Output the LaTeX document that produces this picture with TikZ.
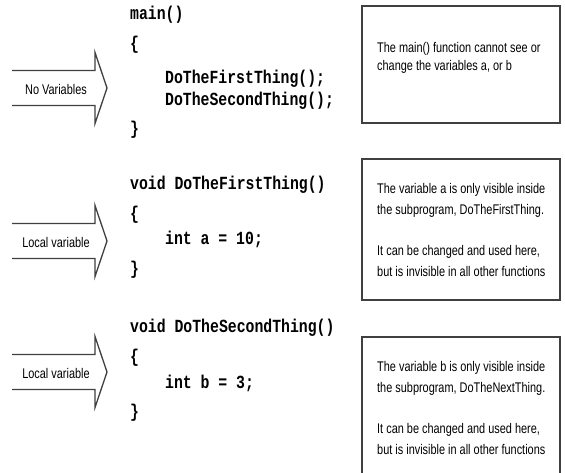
\documentclass[tikz,border=0pt]{standalone}
\usepackage{fontspec}
\newfontfamily\notefont[FakeStretch=0.78]{Liberation Sans}
\newfontfamily\codefont[FakeStretch=0.8]{Liberation Mono}
\begin{document}
\begin{tikzpicture}[x=1pt,y=-1pt,
  frame/.style={draw=black!75, line width=1.3pt, inner sep=0pt},
  arrowline/.style={draw=black!75, line width=1.3pt, line join=miter},
  code/.style={anchor=base west, inner sep=0pt, font=\codefont\bfseries\fontsize{18.5}{20}\selectfont},
  note/.style={anchor=north west, inner sep=0pt, align=left, font=\notefont\fontsize{14}{21}\selectfont},
  tag/.style={inner sep=0pt, font=\notefont\fontsize{14}{16}\selectfont}
]
\useasboundingbox (0,0) rectangle (565,473);
\clip (0,0) rectangle (565,473);
\fill[white] (0,0) rectangle (565,473);

% block arrows pointing at the code (left end left open)
\foreach \ty/\nm/\txt in {88/arrA/No Variables, 241/arrB/Local variable, 372/arrC/Local variable}{
  \coordinate (\nm-tip) at (107,\ty);
  \draw[arrowline] (12,\ty-17.5) -- (95,\ty-17.5) -- (95,\ty-35.5) -- (\nm-tip)
        -- (95,\ty+35.5) -- (95,\ty+17.5) -- (12,\ty+17.5);
  \node[tag] (\nm-lab) at (56,\ty+1) {\txt};
}

% main()
\node[code] (m1) at (130,20)  {main()};
\node[code] (m2) at (130,50)  {\{};
\node[code] (m3) at (165,84)  {DoTheFirstThing();};
\node[code] (m4) at (165,106) {DoTheSecondThing();};
\node[code] (m5) at (130,135) {\}};

% DoTheFirstThing()
\node[code] (f1) at (130,190) {void DoTheFirstThing()};
\node[code] (f2) at (130,220) {\{};
\node[code] (f3) at (165,245) {int a = 10;};
\node[code] (f4) at (130,275) {\}};

% DoTheSecondThing()
\node[code] (s1) at (130,332) {void DoTheSecondThing()};
\node[code] (s2) at (130,362) {\{};
\node[code] (s3) at (165,388) {int b = 3;};
\node[code] (s4) at (130,417) {\}};

% explanation boxes
\node[frame, minimum width=198pt, minimum height=117pt] (boxA) at (461,64.5) {};
\node[frame, minimum width=198pt, minimum height=141pt] (boxB) at (461,229.5) {};
\node[frame, minimum width=198pt, minimum height=142pt] (boxC) at (461,408) {};

% text tops: baseline minus cap height (about 10pt)
\node[note] (nA1) at (377,42) {The main() function cannot see or\\[-3pt]change the variables a, or b};
\node[note] (nB1) at (377,183) {The variable a is only visible inside\\the subprogram, DoTheFirstThing.};
\node[note] (nB2) at (377,245) {It can be changed and used here,\\but is invisible in all other functions};
\node[note] (nC1) at (377,361) {The variable b is only visible inside\\the subprogram, DoTheNextThing.};
\node[note] (nC2) at (377,423) {It can be changed and used here,\\but is invisible in all other functions};
\end{tikzpicture}
\end{document}
